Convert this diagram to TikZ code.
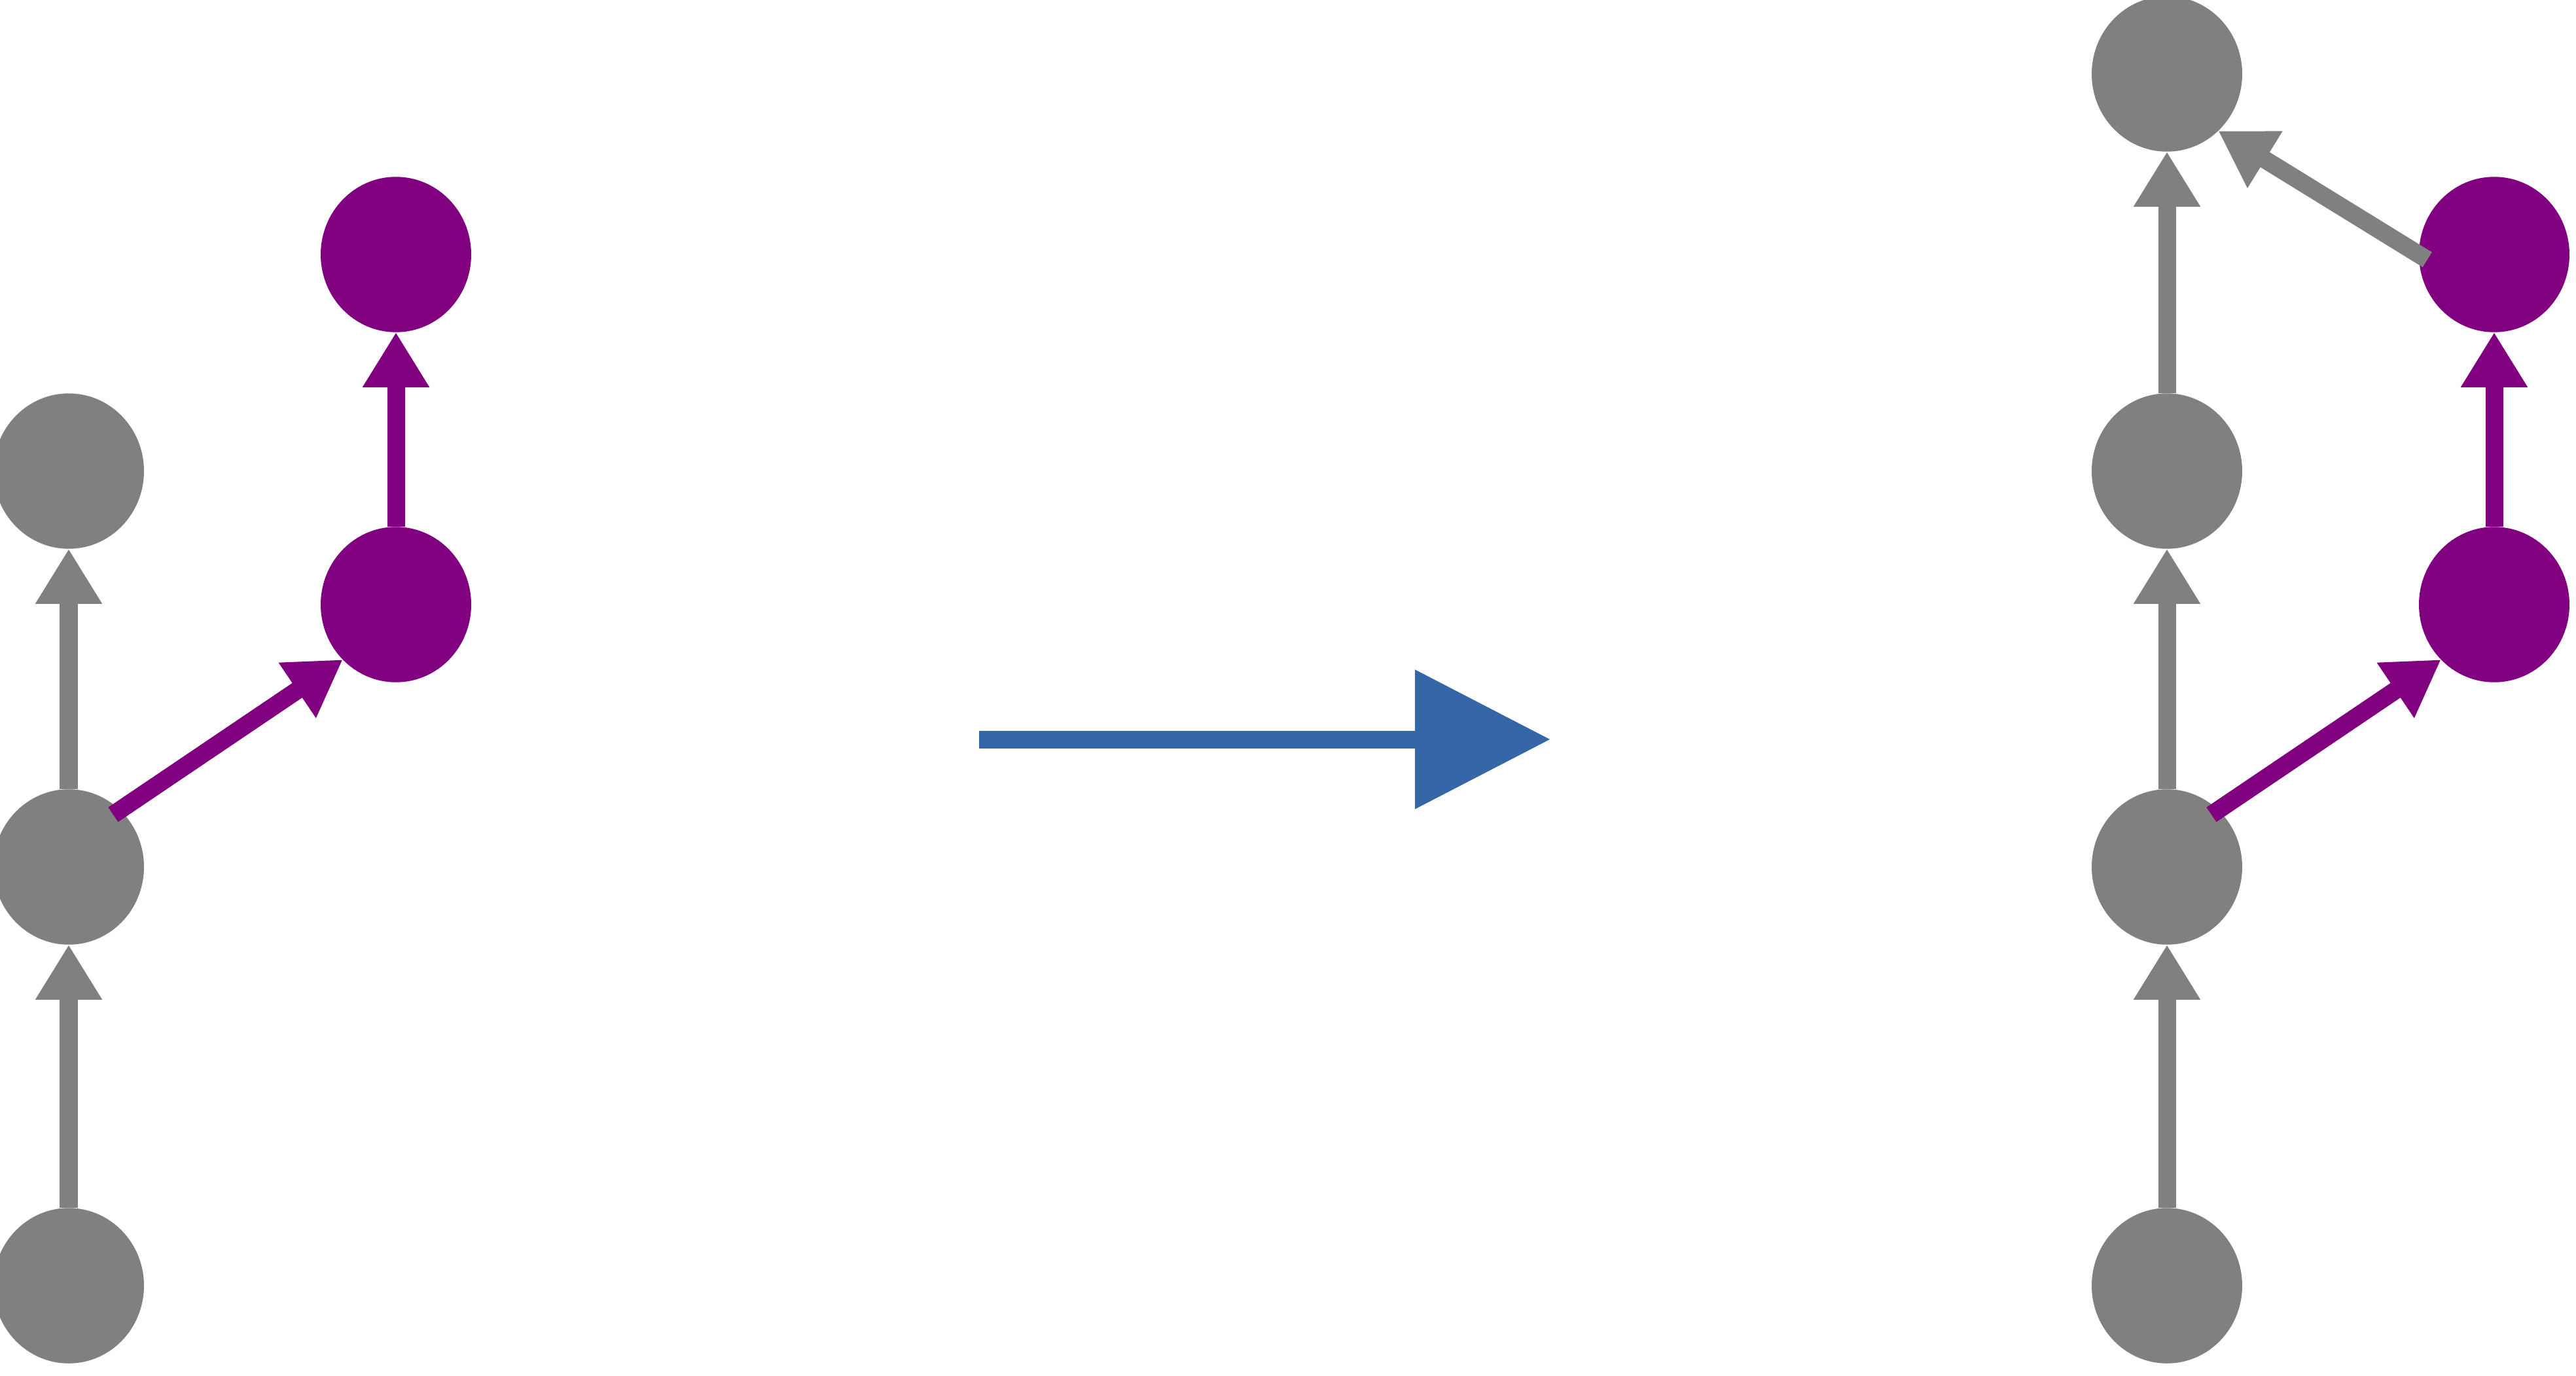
\documentclass[tikz,border=0pt]{standalone}
\usetikzlibrary{arrows.meta,shapes.geometric}
\definecolor{nodegray}{HTML}{808080}
\definecolor{nodepurple}{HTML}{800080}
\definecolor{flowblue}{HTML}{3566A5}

\begin{document}
\begin{tikzpicture}[->,>={Triangle[length=0.336cm,width=0.384cm]},line width=0.108cm,node distance=2.56cm,
    main node/.style={ellipse,fill,draw=none,inner sep=0pt,outer sep=0pt,minimum width=0.92cm,minimum height=0.95cm},
    gray node/.style={main node,nodegray},
    purple node/.style={main node,nodepurple}]
                \useasboundingbox (0,0) rectangle (15.744,8.408);

                % before
                \node[gray node] (a) at (0.42,0.548) {};
                \node[gray node] (b) [above of=a] {};
                \node[gray node] (c) [above of=b,node distance=2.42cm] {};
                \node[purple node] (d) [right of=b,node distance=2cm,yshift=1.604cm] {};
                \node[purple node] (e) [above of=d,node distance=2.14cm] {};

                % after
                \node[gray node] (f) at (13.244,0.548) {};
                \node[gray node] (g) [above of=f] {};
                \node[gray node] (h) [above of=g,node distance=2.42cm] {};
                \node[gray node] (i) [above of=h,node distance=2.428cm] {};
                \node[purple node] (j) [right of=g,node distance=2cm,yshift=1.604cm] {};
                \node[purple node] (k) [above of=j,node distance=2.14cm] {};

                \path[nodegray]
                    (a) edge (b)
                    (b) edge (c)
                    (f) edge (g)
                    (g) edge (h)
                    (h) edge (i)
                    (k.180) edge[shorten <=-0.06cm] (i.-48)
                    ;
                \path[nodepurple]
                    (b.48) edge[shorten <=-0.05cm] (d.226)
                    (d) edge (e)
                    (g.48) edge[shorten <=-0.05cm] (j.226)
                    (j) edge (k)
                    ;

                \coordinate (from) at (5.984,3.888);
                \coordinate (to) at (9.476,3.888);
                \draw[flowblue,-{Triangle[length=0.828cm,width=0.824cm]}] (from) -- (to);
            \end{tikzpicture}
\end{document}
